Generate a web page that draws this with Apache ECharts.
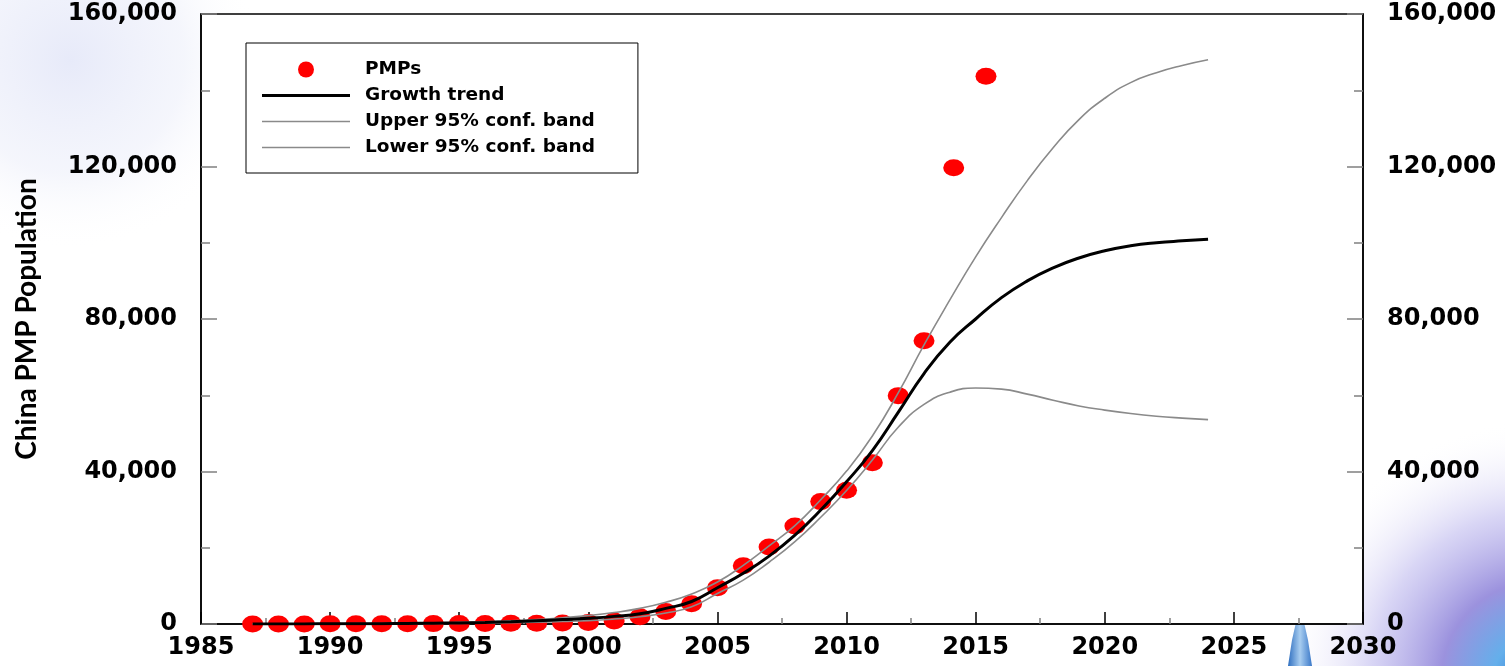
<!DOCTYPE html>
<html>
<head>
<meta charset="utf-8">
<script src="https://cdn.jsdelivr.net/npm/echarts@6/dist/echarts.min.js"></script>
<style>
  html, body { margin: 0; padding: 0; background: #ffffff; }
  #chart { width: 1505px; height: 666px; }
</style>
</head>
<body>
<div id="chart"></div>
<script>
// Observed PMP counts: [year, population]
const pmpYears = [1987, 1988, 1989, 1990, 1991, 1992, 1993, 1994, 1995, 1996, 1997, 1998, 1999, 2000,
  2001, 2002, 2003, 2004, 2005, 2006, 2007, 2008, 2009, 2010, 2011, 2012, 2013, 2014.15, 2015.4];
const pmpValues = [10, 20, 30, 40, 50, 60, 80, 100, 120, 150, 180, 220, 260, 400,
  800, 1900, 3300, 5300, 9500, 15300, 20200, 25700, 32100, 35100, 42300, 59900, 74300, 119700, 143700];

// Fitted growth curve and its 95% confidence bands, yearly
const curveYears = [1987, 1988, 1989, 1990, 1991, 1992, 1993, 1994, 1995, 1996, 1997, 1998, 1999, 2000,
  2001, 2002, 2003, 2004, 2005, 2006, 2007, 2008, 2009, 2010, 2011, 2012, 2013, 2014, 2015, 2016,
  2017, 2018, 2019, 2020, 2021, 2022, 2023, 2024];
const trendValues = [15, 20, 30, 45, 65, 95, 140, 200, 290, 420, 600, 850, 1150, 1500,
  2000, 2700, 4100, 5900, 9500, 13300, 17800, 23300, 29900, 37300, 45500, 55500, 65700, 73900, 80000, 85600,
  90000, 93400, 96000, 97900, 99200, 100000, 100500, 100900];
const upperValues = [20, 30, 45, 65, 95, 140, 200, 290, 420, 600, 850, 1200, 1650, 2200,
  3000, 4100, 5700, 7900, 11000, 15400, 20500, 25800, 32600, 40100, 49300, 60600, 73200, 85000, 96300, 106600,
  116300, 124900, 132300, 137900, 142000, 144600, 146500, 148000];
const lowerValues = [10, 14, 20, 30, 42, 60, 85, 120, 170, 240, 340, 480, 660, 880,
  1300, 1900, 2900, 4500, 8000, 11500, 16200, 21600, 28000, 35000, 43000, 51600, 57600, 60800, 61900, 61600,
  60300, 58700, 57200, 56100, 55200, 54500, 54000, 53600];

const xTicks = { min: 1985, max: 2030, step: 5 };
const yTickLabels = ['0', '40,000', '80,000', '120,000', '160,000'];
const yStep = 40000;

const pairs = (xs, ys) => xs.map((x, i) => [x, ys[i]]);

const labelFont = { fontFamily: 'DejaVu Sans', fontWeight: 'bold', fontSize: 24, color: '#000' };

const yAxisBase = {
  type: 'value', min: 0, max: 160000, interval: yStep,
  splitLine: { show: false },
  axisLine: { show: true, lineStyle: { color: '#000', width: 1.5 } },
  axisTick: { show: true, inside: true, length: 16, lineStyle: { color: '#808080', width: 1.5 } },
  minorTick: { show: true, splitNumber: 2, length: 9, lineStyle: { color: '#808080', width: 1.5 } },
  axisLabel: Object.assign({ margin: 24, formatter: v => yTickLabels[Math.round(v / yStep)] }, labelFont)
};

const chart = echarts.init(document.getElementById('chart'), null, { renderer: 'canvas' });
chart.setOption({
  backgroundColor: '#ffffff',
  animation: false,
  graphic: [
    {
      type: 'circle', z: -10, silent: true,
      shape: { cx: 70, cy: 60, r: 190 },
      style: {
        fill: new echarts.graphic.RadialGradient(0.5, 0.5, 0.5, [
          { offset: 0, color: 'rgba(215,220,245,0.6)' },
          { offset: 0.6, color: 'rgba(225,229,247,0.35)' },
          { offset: 1, color: 'rgba(255,255,255,0)' }
        ])
      }
    },
    {
      type: 'circle', z: -10, silent: true,
      shape: { cx: 1540, cy: 680, r: 260 },
      style: {
        fill: new echarts.graphic.RadialGradient(0.5, 0.5, 0.5, [
          { offset: 0, color: 'rgba(40,110,200,1)' },
          { offset: 0.18, color: 'rgba(100,175,235,1)' },
          { offset: 0.38, color: 'rgba(150,140,220,0.95)' },
          { offset: 0.65, color: 'rgba(190,185,238,0.6)' },
          { offset: 1, color: 'rgba(255,255,255,0)' }
        ])
      }
    },
    {
      type: 'polygon', z: -10, silent: true,
      shape: { points: [[1288, 666], [1292, 640], [1297, 618], [1303, 618], [1308, 640], [1312, 666]] },
      style: {
        fill: new echarts.graphic.LinearGradient(0, 0, 1, 0, [
          { offset: 0, color: '#2f6fc0' },
          { offset: 0.5, color: '#a8cdf0' },
          { offset: 1, color: '#3a78c8' }
        ])
      }
    }
  ],
  grid: {
    left: 201, right: 142, top: 14, bottom: 42,
    show: true, backgroundColor: '#ffffff', borderColor: '#000', borderWidth: 1.5
  },
  legend: {
    orient: 'vertical',
    left: 246, top: 43,
    padding: [17, 43, 16, 16],
    itemWidth: 88, itemHeight: 16, itemGap: 7,
    borderColor: '#000', borderWidth: 1, backgroundColor: '#ffffff',
    textStyle: { fontFamily: 'DejaVu Sans', fontWeight: 'bold', fontSize: 18.5, color: '#000', padding: [0, 0, 0, 10] },
    data: [
      { name: 'PMPs', icon: 'circle' },
      { name: 'Growth trend', icon: 'path://M0,0H88V3H0Z' },
      { name: 'Upper 95% conf. band', icon: 'path://M0,0H88V1.6H0Z' },
      { name: 'Lower 95% conf. band', icon: 'path://M0,0H88V1.6H0Z' }
    ]
  },
  xAxis: {
    type: 'value', min: xTicks.min, max: xTicks.max, interval: xTicks.step,
    splitLine: { show: false },
    axisLine: { show: true, onZero: false, lineStyle: { color: '#000', width: 1.5 } },
    axisTick: { show: true, inside: true, length: 12, lineStyle: { color: '#000', width: 1.5 } },
    minorTick: { show: true, splitNumber: 2, length: 6, lineStyle: { color: '#808080', width: 1.5 } },
    axisLabel: Object.assign({ margin: 12, formatter: v => String(v) }, labelFont)
  },
  yAxis: [
    Object.assign({}, yAxisBase, {
      position: 'left',
      name: 'China PMP Population',
      nameLocation: 'middle', nameRotate: 90, nameGap: 160,
      nameTextStyle: { fontFamily: 'Lato', fontWeight: 'bold', fontSize: 28, color: '#000' }
    }),
    Object.assign({}, yAxisBase, { position: 'right' })
  ],
  series: [
    {
      name: 'PMPs', type: 'scatter', z: 1,
      symbol: 'circle', symbolSize: [21, 17],
      itemStyle: { color: '#ff0000', opacity: 1, borderWidth: 0 },
      data: pairs(pmpYears, pmpValues)
    },
    {
      name: 'Growth trend', type: 'line', z: 3, smooth: true, symbol: 'none',
      lineStyle: { color: '#000', width: 3 },
      itemStyle: { color: '#000' },
      data: pairs(curveYears, trendValues)
    },
    {
      name: 'Upper 95% conf. band', type: 'line', z: 2, smooth: true, symbol: 'none',
      lineStyle: { color: '#8a8a8a', width: 1.6 },
      itemStyle: { color: '#8a8a8a' },
      data: pairs(curveYears, upperValues)
    },
    {
      name: 'Lower 95% conf. band', type: 'line', z: 2, smooth: true, symbol: 'none',
      lineStyle: { color: '#8a8a8a', width: 1.6 },
      itemStyle: { color: '#8a8a8a' },
      data: pairs(curveYears, lowerValues)
    }
  ]
});
</script>
</body>
</html>
